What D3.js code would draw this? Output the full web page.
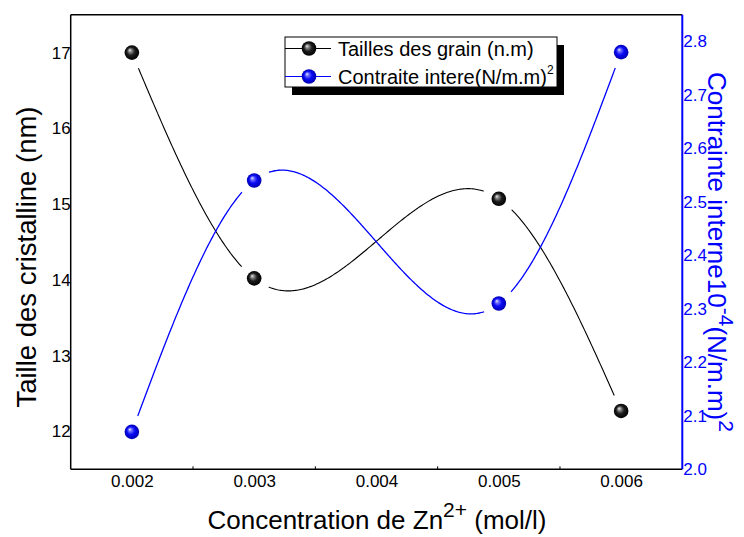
<!DOCTYPE html>
<html><head><meta charset="utf-8">
<script src="https://cdn.jsdelivr.net/npm/d3@7"></script>
<style>html,body{margin:0;padding:0;background:#fff;}svg{display:block;font-family:"Liberation Sans",Arial,sans-serif;}</style>
</head><body>
<svg id="chart" width="744" height="537"></svg>
<script>
const concentrations = [0.002, 0.003, 0.005, 0.006];
const grainSize = [17.0, 14.02, 15.07, 12.27];
const stress = [2.07, 2.54, 2.31, 2.78];
const xTicks = [0.002, 0.003, 0.004, 0.005, 0.006];
const xTickLabels = ["0.002", "0.003", "0.004", "0.005", "0.006"];
const leftTicks = [12, 13, 14, 15, 16, 17];
const rightTicks = [2.0, 2.1, 2.2, 2.3, 2.4, 2.5, 2.6, 2.7, 2.8];
const legendLabels = ["Tailles des grain (n.m)", "Contraite intere(N/m.m)"];

const L = 70.7, R = 682.3, T = 14.7, B = 469.3;
const svg = d3.select("#chart");
const x = d3.scaleLinear().domain([0.0015, 0.0065]).range([L, R]);
const yL = d3.scaleLinear().domain([11.5, 17.5]).range([B, T]);
const yR = d3.scaleLinear().domain([2.0, 2.85]).range([B, T]);

// natural cubic spline y(x)
function naturalSpline(xs, ys) {
  const n = xs.length - 1, h = [], a = [], l = [1], mu = [0], z = [0], c = new Array(n + 1).fill(0), b = [], d = [];
  for (let i = 0; i < n; i++) h[i] = xs[i + 1] - xs[i];
  for (let i = 1; i < n; i++) a[i] = 3 / h[i] * (ys[i + 1] - ys[i]) - 3 / h[i - 1] * (ys[i] - ys[i - 1]);
  for (let i = 1; i < n; i++) {
    l[i] = 2 * (xs[i + 1] - xs[i - 1]) - h[i - 1] * mu[i - 1];
    mu[i] = h[i] / l[i];
    z[i] = (a[i] - h[i - 1] * z[i - 1]) / l[i];
  }
  z[n] = 0; c[n] = 0;
  for (let j = n - 1; j >= 0; j--) {
    c[j] = z[j] - mu[j] * c[j + 1];
    b[j] = (ys[j + 1] - ys[j]) / h[j] - h[j] * (c[j + 1] + 2 * c[j]) / 3;
    d[j] = (c[j + 1] - c[j]) / (3 * h[j]);
  }
  return function (t) {
    let j = 0;
    while (j < n - 1 && t > xs[j + 1]) j++;
    const dx = t - xs[j];
    return ys[j] + b[j] * dx + c[j] * dx * dx + d[j] * dx * dx * dx;
  };
}
const xs = concentrations.map(v => v * 1000);
const sampleXs = d3.range(0, 401).map(i => xs[0] + (xs[xs.length - 1] - xs[0]) * i / 400);
const fBlack = naturalSpline(xs, grainSize);
const fBlue = naturalSpline(xs, stress);

const defs = svg.append("defs");
function grad(id, stops) {
  const g = defs.append("radialGradient").attr("id", id).attr("cx", "50%").attr("cy", "50%").attr("r", "50%").attr("fx", "35%").attr("fy", "32%");
  stops.forEach(s => g.append("stop").attr("offset", s[0]).attr("stop-color", s[1]));
}
grad("gBlack", [["0%", "#f0f0f0"], ["22%", "#8a8a8a"], ["55%", "#1e1e1e"], ["100%", "#000"]]);
grad("gBlue", [["0%", "#eef0ff"], ["22%", "#7070ff"], ["55%", "#0a0af5"], ["100%", "#0000b0"]]);

const mask = defs.append("mask").attr("id", "gapMask").attr("maskUnits", "userSpaceOnUse")
  .attr("x", 0).attr("y", 0).attr("width", 744).attr("height", 537);
mask.append("rect").attr("width", 744).attr("height", 537).attr("fill", "#fff");
concentrations.forEach((c, i) => {
  mask.append("circle").attr("cx", x(c)).attr("cy", yL(grainSize[i])).attr("r", 17).attr("fill", "#000");
  mask.append("circle").attr("cx", x(c)).attr("cy", yR(stress[i])).attr("r", 17).attr("fill", "#000");
});

// frame
svg.append("line").attr("x1", L).attr("x2", R).attr("y1", T).attr("y2", T).attr("stroke", "#000").attr("stroke-width", 1.5);
svg.append("line").attr("x1", L).attr("x2", R).attr("y1", B).attr("y2", B).attr("stroke", "#000").attr("stroke-width", 1.5);
svg.append("line").attr("x1", L).attr("x2", L).attr("y1", T).attr("y2", B).attr("stroke", "#000").attr("stroke-width", 1.5);
svg.append("line").attr("x1", R).attr("x2", R).attr("y1", T).attr("y2", B).attr("stroke", "#0000ff").attr("stroke-width", 2);

// axes via d3
const xAxis = d3.axisBottom(x).tickValues(xTicks).tickFormat((d, i) => xTickLabels[i]).tickSize(0).tickPadding(6);
const gx = svg.append("g").attr("transform", `translate(0,${B})`).call(xAxis);
gx.select(".domain").remove();
gx.selectAll("text").attr("font-size", 17).attr("fill", "#000").attr("font-family", "Liberation Sans, Arial, sans-serif");

const yAxisL = d3.axisLeft(yL).tickValues(leftTicks).tickFormat(d3.format("d")).tickSize(0).tickPadding(0);
const gyl = svg.append("g").attr("transform", `translate(${L},0)`).call(yAxisL);
gyl.select(".domain").remove();
gyl.selectAll("text").attr("font-size", 17).attr("fill", "#000").attr("font-family", "Liberation Sans, Arial, sans-serif");

const yAxisR = d3.axisRight(yR).tickValues(rightTicks).tickFormat(d3.format(".1f")).tickSize(0).tickPadding(1);
const gyr = svg.append("g").attr("transform", `translate(${R},0)`).call(yAxisR);
gyr.select(".domain").remove();
gyr.selectAll("text").attr("font-size", 17).attr("fill", "#0000ff").attr("font-family", "Liberation Sans, Arial, sans-serif");

// small inward minor ticks
[0.0025, 0.0035, 0.0045, 0.0055].forEach(v => {
  svg.append("line").attr("x1", x(v)).attr("x2", x(v)).attr("y1", B).attr("y2", B - 3).attr("stroke", "#000").attr("stroke-width", 1);
});

// curves
const lineGen = d3.line().x(d => x(d[0] / 1000)).y(d => d[1]);
const curves = svg.append("g").attr("mask", "url(#gapMask)");
curves.append("path").attr("d", lineGen(sampleXs.map(t => [t, yL(fBlack(t))])))
  .attr("fill", "none").attr("stroke", "#000").attr("stroke-width", 1.1);
curves.append("path").attr("d", lineGen(sampleXs.map(t => [t, yR(fBlue(t))])))
  .attr("fill", "none").attr("stroke", "#0000ff").attr("stroke-width", 1.3);

// markers
svg.selectAll("circle.black").data(concentrations).enter().append("circle")
  .attr("cx", d => x(d)).attr("cy", (d, i) => yL(grainSize[i])).attr("r", 7.3).attr("fill", "url(#gBlack)");
svg.selectAll("circle.blue").data(concentrations).enter().append("circle")
  .attr("cx", d => x(d)).attr("cy", (d, i) => yR(stress[i])).attr("r", 7.3).attr("fill", "url(#gBlue)");

// axis titles
svg.append("text").attr("transform", "translate(36,257) rotate(-90)").attr("text-anchor", "middle")
  .attr("font-size", 27.5).attr("fill", "#000").text("Taille des cristalline (nm)");

const xt = svg.append("text").attr("x", 377).attr("y", 529).attr("text-anchor", "middle").attr("font-size", 26).attr("fill", "#000");
xt.append("tspan").text("Concentration de Zn");
xt.append("tspan").attr("font-size", 21).attr("dy", -12).text("2+");
xt.append("tspan").attr("dy", 12).text(" (mol/l)");

const rt = svg.append("text").attr("transform", "translate(708,252) rotate(90)").attr("text-anchor", "middle").attr("font-size", 26).attr("fill", "#0000ff");
rt.append("tspan").text("Contrainte interne10");
rt.append("tspan").attr("font-size", 21).attr("dy", -11).text("-4");
rt.append("tspan").attr("dy", 11).text("(N/m.m)");
rt.append("tspan").attr("font-size", 21).attr("dy", -11).text("2");

// legend
const lg = svg.append("g");
lg.append("rect").attr("x", 292).attr("y", 45).attr("width", 272).attr("height", 50).attr("fill", "#000");
lg.append("rect").attr("x", 285).attr("y", 37).attr("width", 272).attr("height", 50).attr("fill", "#fff").attr("stroke", "#000").attr("stroke-width", 1);
const rowsY = [48.5, 76.5];
const rowColors = ["#000", "#0000ff"];
const rowGrads = ["url(#gBlack)", "url(#gBlue)"];
legendLabels.forEach((lab, i) => {
  lg.append("line").attr("x1", 285).attr("x2", 331).attr("y1", rowsY[i]).attr("y2", rowsY[i]).attr("stroke", rowColors[i]).attr("stroke-width", 1.2);
  lg.append("circle").attr("cx", 309).attr("cy", rowsY[i]).attr("r", 7.3).attr("fill", rowGrads[i]);
  const t = lg.append("text").attr("x", 338).attr("y", rowsY[i] + 7).attr("font-size", 20).attr("fill", "#000").text(lab);
  if (i === 1) t.append("tspan").attr("font-size", 12).attr("dy", -10).text("2");
});
</script>
</body></html>
